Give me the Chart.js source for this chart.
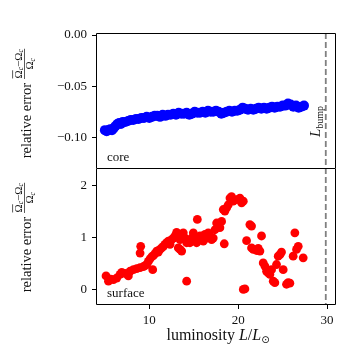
<!DOCTYPE html>
<html><head><meta charset="utf-8">
<script src="https://cdn.jsdelivr.net/npm/chart.js@4"></script>
<style>
html,body{margin:0;padding:0;background:#fff;width:347px;height:356px;overflow:hidden}
canvas{position:absolute;left:0}
#c1{top:0}
#c2{top:160px}
</style></head><body>
<canvas id="c1" width="347" height="180"></canvas>
<canvas id="c2" width="347" height="196"></canvas>
<script>
const coreL=[5.0,5.2,5.4,5.6,5.8,6.0,6.2,6.4,6.6,6.8,7.0,7.3,7.6,7.9,8.2,8.5,8.8,9.1,9.4,9.7,10.0,10.3,10.6,10.9,11.2,11.5,11.8,12.1,12.4,12.7,13.0,13.3,13.6,13.9,14.2,14.5,14.8,15.1,15.4,15.7,16.0,16.3,16.6,16.9,17.2,17.5,17.8,18.1,18.4,18.7,19.0,19.3,19.6,19.9,20.2,20.5,20.8,21.1,21.4,21.7,22.0,22.3,22.6,22.9,23.2,23.5,23.8,24.1,24.4,24.7,25.0,25.3,25.6,25.9,26.2,26.5,26.8,27.1,27.4];
const coreErr=[-0.093,-0.094,-0.093,-0.092,-0.093,-0.091,-0.089,-0.087,-0.086,-0.087,-0.085,-0.085,-0.084,-0.083,-0.083,-0.082,-0.082,-0.081,-0.081,-0.080,-0.081,-0.080,-0.079,-0.079,-0.080,-0.078,-0.079,-0.078,-0.078,-0.077,-0.078,-0.076,-0.077,-0.077,-0.076,-0.078,-0.077,-0.075,-0.076,-0.076,-0.075,-0.076,-0.074,-0.075,-0.075,-0.074,-0.075,-0.077,-0.076,-0.075,-0.074,-0.075,-0.074,-0.074,-0.073,-0.071,-0.072,-0.073,-0.072,-0.073,-0.072,-0.071,-0.072,-0.071,-0.072,-0.071,-0.070,-0.071,-0.070,-0.070,-0.069,-0.069,-0.067,-0.068,-0.070,-0.069,-0.071,-0.070,-0.069];
const surfL=[5.13,5.40,5.66,5.96,6.33,6.71,6.90,7.27,7.64,7.83,8.21,8.58,8.96,9.33,9.52,9.70,9.89,10.08,10.27,10.45,10.64,10.83,11.01,11.20,11.39,11.58,11.76,11.95,12.14,12.33,12.51,12.70,12.89,13.07,13.26,13.45,13.82,14.01,13.45,13.26,13.64,14.20,14.39,14.57,14.76,14.95,15.13,15.32,15.51,15.70,16.07,16.26,16.45,16.63,16.82,17.01,17.19,17.38,17.57,17.76,17.94,18.13,18.32,18.50,18.69,18.88,19.07,19.25,19.44,19.82,20.19,20.38,20.57,9.03,8.96,10.38,14.20,15.40,18.43,21.31,21.50,20.94,21.50,21.69,22.06,22.25,22.44,22.62,22.81,23.00,23.19,23.37,23.56,23.75,23.94,24.12,24.31,24.50,24.69,24.87,25.06,25.43,25.62,25.81,26.37,26.18,26.56,26.75,27.31,20.57,20.75];
const surfErr=[0.26,0.16,0.20,0.19,0.22,0.29,0.33,0.31,0.26,0.35,0.38,0.40,0.42,0.44,0.46,0.48,0.54,0.59,0.63,0.65,0.69,0.74,0.72,0.77,0.80,0.83,0.87,0.90,0.93,0.87,0.96,0.99,1.03,1.10,1.06,0.96,1.09,0.99,0.77,0.80,0.74,0.90,0.93,0.90,0.99,1.09,0.99,0.90,0.96,1.03,0.93,1.06,0.99,1.09,1.03,0.96,0.99,1.15,1.28,1.22,1.19,1.31,1.54,1.51,1.57,1.63,1.76,1.79,1.70,1.73,1.76,1.67,1.70,0.83,0.70,0.38,0.16,1.35,0.88,1.25,1.22,0.94,0.80,0.77,0.75,0.79,0.74,1.03,0.51,0.45,0.35,0.32,0.29,0.38,0.16,0.13,0.48,0.64,0.67,0.72,0.38,0.10,0.13,0.12,1.09,0.64,0.77,0.83,0.61,0.00,0.01];
const xTicks=[10,20,30];
const coreTicks=[-0.10,-0.05,0.00];
const surfTicks=[0,1,2];
const Lbump=29.85;

const SERIF='"Liberation Serif","DejaVu Serif",serif';
const TXT='#111';

function runWidth(ctx,parts){let w=0;for(const p of parts){ctx.font=p.f;w+=ctx.measureText(p.t).width;}return w;}
function drawRun(ctx,parts,x,y){for(const p of parts){ctx.font=p.f;ctx.fillText(p.t,x,y+(p.dy||0));x+=ctx.measureText(p.t).width;}return x;}

function drawYTitle(ctx,cy){
  ctx.save();
  ctx.translate(0,cy);ctx.rotate(-Math.PI/2);
  ctx.fillStyle=TXT;ctx.strokeStyle=TXT;ctx.textBaseline='alphabetic';ctx.textAlign='left';
  const main=[{t:'relative error',f:'14.5px '+SERIF}];
  const F='11px '+SERIF,S='italic 7.5px '+SERIF;
  const num=[{t:'\u03A9',f:F},{t:'c',f:S,dy:1.5},{t:'\u2212',f:F},{t:'\u03A9',f:F},{t:'c',f:S,dy:1.5}];
  const den=[{t:'\u03A9',f:F},{t:'c',f:S,dy:1.5}];
  const mw=runWidth(ctx,main),nw=runWidth(ctx,num),dw=runWidth(ctx,den);
  const fw=nw+1,gap=4,total=mw+gap+fw;
  const x0=-total/2;
  drawRun(ctx,main,x0,31);
  const fx=x0+mw+gap;
  drawRun(ctx,num,fx+0.5,21.5);
  ctx.font=F;const ow=ctx.measureText('\u03A9').width;
  ctx.lineWidth=0.7;
  ctx.beginPath();ctx.moveTo(fx+0.5,12.6);ctx.lineTo(fx+0.5+ow,12.6);ctx.stroke();
  ctx.beginPath();ctx.moveTo(fx,24.5);ctx.lineTo(fx+fw,24.5);ctx.stroke();
  drawRun(ctx,den,fx+(fw-dw)/2,33);
  ctx.restore();
}

function framePlugin(offY,isTop){
  return {id:'deco'+(isTop?1:2),
    afterDatasetsDraw(chart){
      const ctx=chart.ctx,a=chart.chartArea;
      ctx.save();
      const xb=chart.scales.x.getPixelForValue(Lbump);
      ctx.strokeStyle='#808080';ctx.lineWidth=1.8;ctx.setLineDash([6,3]);
      ctx.beginPath();ctx.moveTo(xb,a.top);ctx.lineTo(xb,a.bottom);ctx.stroke();
      ctx.setLineDash([]);
      ctx.strokeStyle='#000';ctx.lineWidth=1;
      const L=Math.round(a.left)+0.5,R=Math.round(a.right)-0.5,T=Math.round(a.top)+0.5,B=Math.round(a.bottom)-0.5;
      ctx.beginPath();
      if(isTop){ctx.moveTo(L,B+0.5);ctx.lineTo(L,T);ctx.lineTo(R,T);ctx.lineTo(R,B+0.5);}
      else{ctx.moveTo(L,B);ctx.lineTo(L,T);ctx.lineTo(R,T);ctx.lineTo(R,B);ctx.closePath();}
      ctx.stroke();
      ctx.fillStyle=TXT;ctx.textAlign='left';ctx.textBaseline='alphabetic';
      ctx.font='13px '+SERIF;
      if(isTop){
        ctx.fillText('core',a.left+11,161-offY);
        ctx.save();
        ctx.translate(xb-6,121.5-offY);ctx.rotate(-Math.PI/2);
        const parts=[{t:'L',f:'italic 15px '+SERIF},{t:'bump',f:'10px '+SERIF,dy:3}];
        const w=runWidth(ctx,parts);
        drawRun(ctx,parts,-w/2,0);
        ctx.restore();
      } else {
        ctx.fillText('surface',a.left+11,297-offY);
        const parts=[{t:'luminosity ',f:'16px '+SERIF},{t:'L',f:'italic 16px '+SERIF},{t:'/',f:'16px '+SERIF},{t:'L',f:'italic 16px '+SERIF},{t:'\u2299',f:'10px "DejaVu Sans",sans-serif',dy:3}];
        const w=runWidth(ctx,parts);
        drawRun(ctx,parts,218-w/2,340-offY);
      }
      drawYTitle(ctx,(a.top+a.bottom)/2+(isTop?3:1));
      ctx.restore();
    }};
}

function noPad(s){s.paddingTop=0;s.paddingBottom=0;s.paddingLeft=0;s.paddingRight=0;}

function yScale(min,max,ticks,fmt){
  return {type:'linear',min:min,max:max,
    afterFit(s){s.width=96;noPad(s);},
    afterBuildTicks(s){s.ticks=ticks.map(v=>({value:v}));},
    ticks:{callback:fmt,font:{family:SERIF,size:13},color:TXT,padding:5},
    grid:{drawOnChartArea:false,drawTicks:true,tickLength:4,color:'#000',tickWidth:1},
    border:{display:false}};
}

const fmtCore=v=>(v<0?'\u2212':'')+Math.abs(v).toFixed(2);
const fmtSurf=v=>String(Math.round(v));

function fitArea(chart,want){
  for(let k=0;k<4;k++){
    const a=chart.chartArea,p=chart.options.layout.padding;
    const dt=want.top-a.top,db=a.bottom-want.bottom,dl=want.left-a.left,dr=a.right-want.right;
    if(Math.abs(dt)<0.5&&Math.abs(db)<0.5&&Math.abs(dl)<0.5&&Math.abs(dr)<0.5)break;
    p.top+=dt;p.bottom+=db;p.left+=dl;p.right+=dr;
    chart.update('none');
  }
}

const chartTop=new Chart(document.getElementById('c1'),{
  type:'scatter',
  data:{datasets:[{data:coreL.map((x,i)=>({x:x,y:coreErr[i]})),backgroundColor:'#0000ff',borderWidth:0,pointRadius:5,pointHoverRadius:5}]},
  options:{responsive:false,animation:false,events:[],
    layout:{padding:{left:0,right:11,top:33,bottom:12}},
    plugins:{legend:{display:false},tooltip:{enabled:false}},
    scales:{
      x:{type:'linear',min:4,max:31,display:false},
      y:yScale(-0.13,0.002,coreTicks,fmtCore)
    }},
  plugins:[framePlugin(0,true)]
});
fitArea(chartTop,{top:33,bottom:168,left:96,right:336});

const chartBot=new Chart(document.getElementById('c2'),{
  type:'scatter',
  data:{datasets:[{data:surfL.map((x,i)=>({x:x,y:surfErr[i]})),backgroundColor:'#ff0000',borderWidth:0,pointRadius:4.4,pointHoverRadius:4.4}]},
  options:{responsive:false,animation:false,events:[],
    layout:{padding:{left:0,right:11,top:8,bottom:0}},
    plugins:{legend:{display:false},tooltip:{enabled:false}},
    scales:{
      x:{type:'linear',min:4,max:31,
        afterFit(s){s.height=51;noPad(s);},
        afterBuildTicks(s){s.ticks=xTicks.map(v=>({value:v}));},
        ticks:{font:{family:SERIF,size:13},color:TXT,padding:4,maxRotation:0},
        grid:{drawOnChartArea:false,drawTicks:true,tickLength:4,color:'#000',tickWidth:1},
        border:{display:false}},
      y:yScale(-0.3,2.34,surfTicks,fmtSurf)
    }},
  plugins:[framePlugin(160,false)]
});
fitArea(chartBot,{top:8,bottom:145,left:96,right:336});
</script>
</body></html>
